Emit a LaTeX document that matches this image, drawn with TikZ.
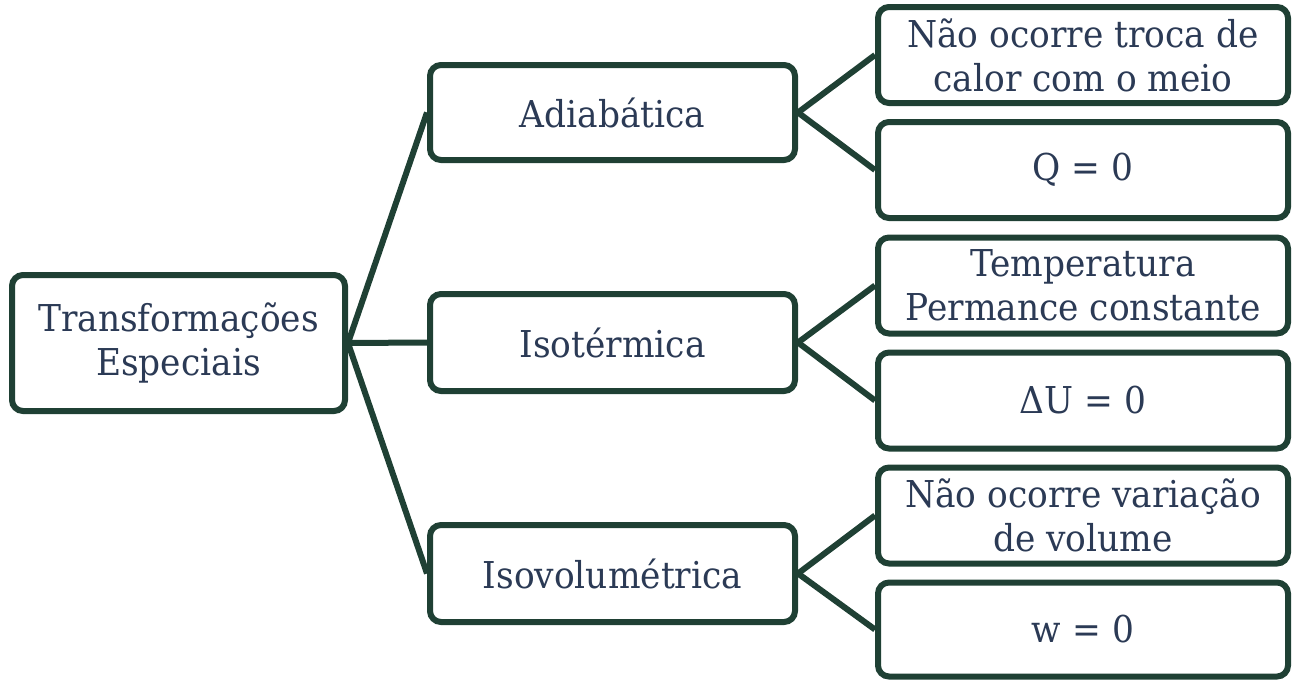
\documentclass[tikz,border=0pt]{standalone}
\usepackage{fontspec}
\setmainfont[FakeStretch=0.93]{DejaVu Serif}
\definecolor{edgegreen}{HTML}{1F4034}
\definecolor{textnavy}{HTML}{2B3A55}
\begin{document}
\begin{tikzpicture}[x=1pt,y=-1pt,
  box/.style={draw=edgegreen, line width=6pt, rounded corners=11pt, fill=white,
    inner sep=0pt, align=center, text=textnavy,
    font=\fontsize{37}{44}\selectfont},
  link/.style={draw=edgegreen, line width=6pt}]
\useasboundingbox (0,0) rectangle (1292,680);
\node[box, minimum width=333pt, minimum height=136pt] (root) at (178.5,343) {Transformações\\Especiais};
\node[box, minimum width=365pt, minimum height=95pt] (adi) at (612.5,112.5) {Adiabática};
\node[box, minimum width=365pt, minimum height=97pt] (iso) at (612.5,342.5) {Isotérmica};
\node[box, minimum width=365pt, minimum height=97pt] (vol) at (612.5,573.5) {Isovolumétrica};
\node[box, minimum width=410pt, minimum height=96pt] (a1) at (1083,55) {Não ocorre troca de\\calor com o meio};
\node[box, minimum width=410pt, minimum height=96pt] (a2) at (1083,170) {Q = 0};
\node[box, minimum width=410pt, minimum height=96pt] (i1) at (1083,285.5) {Temperatura\\Permance constante};
\node[box, minimum width=410pt, minimum height=96pt] (i2) at (1083,400.5) {ΔU = 0};
\node[box, minimum width=410pt, minimum height=96pt] (v1) at (1083,515.5) {Não ocorre variação\\de volume};
\node[box, minimum width=410pt, minimum height=94pt] (v2) at (1083,629.5) {w = 0};
\draw[link] (root.east) -- (adi.west);
\draw[link] (root.east) -- (iso.west);
\draw[link] (root.east) -- (vol.west);
\draw[link] (adi.east) -- (a1.west);
\draw[link] (adi.east) -- (a2.west);
\draw[link] (iso.east) -- (i1.west);
\draw[link] (iso.east) -- (i2.west);
\draw[link] (vol.east) -- (v1.west);
\draw[link] (vol.east) -- (v2.west);
\end{tikzpicture}
\end{document}
